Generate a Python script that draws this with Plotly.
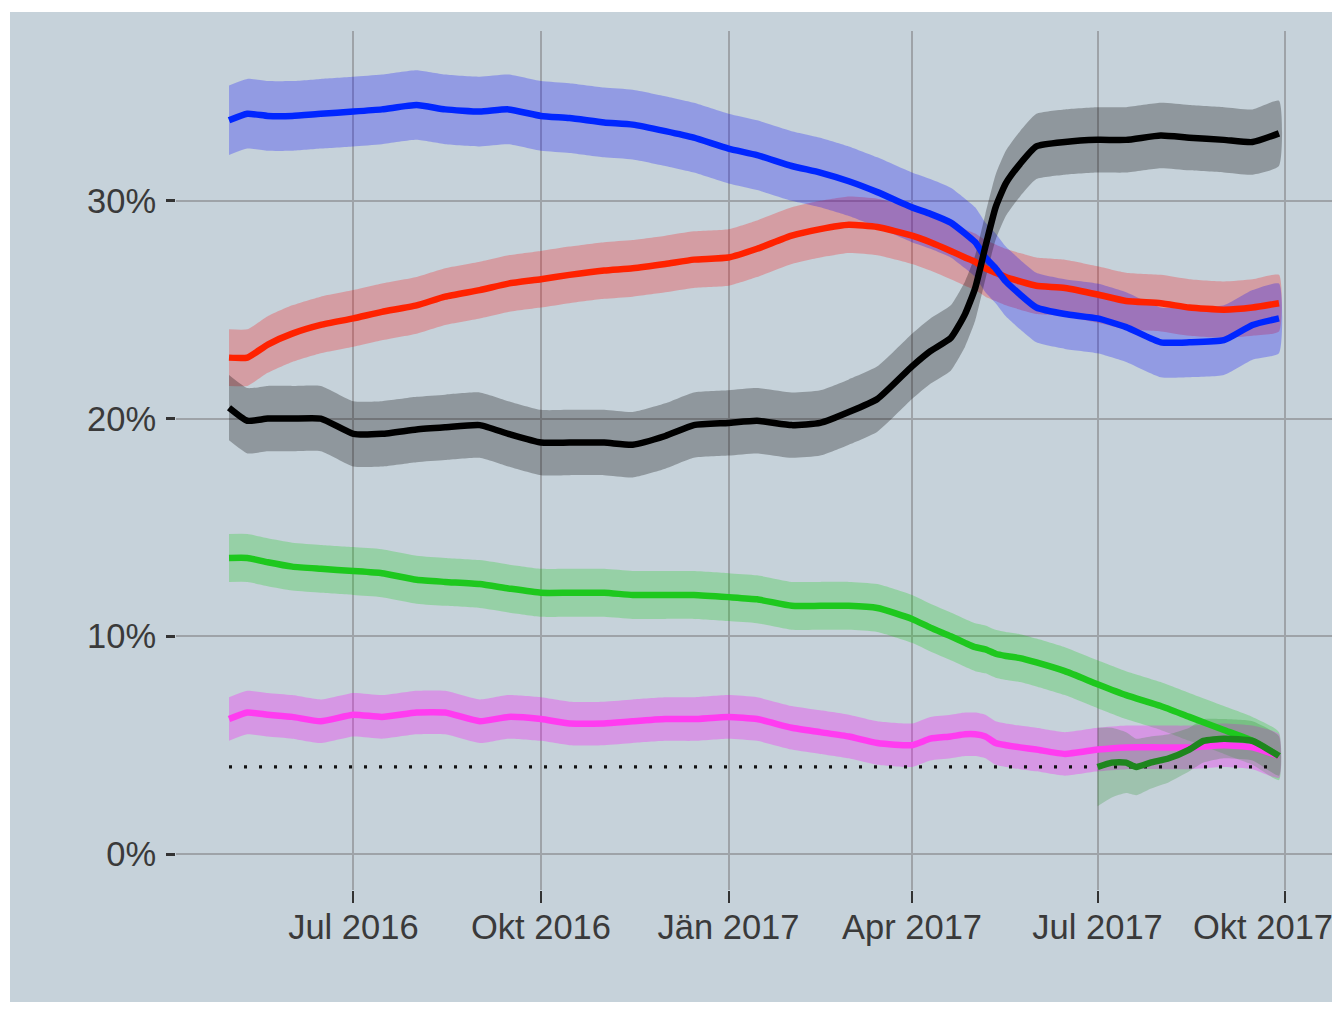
import plotly.graph_objects as go

# ---------------- data ----------------
dates = [
    "2016-05-01", "2016-05-10", "2016-05-20", "2016-06-01", "2016-06-15",
    "2016-07-01", "2016-07-15", "2016-08-01", "2016-08-15", "2016-09-01",
    "2016-09-15", "2016-10-01", "2016-10-15", "2016-11-01", "2016-11-15",
    "2016-12-01", "2016-12-15", "2017-01-01", "2017-01-15", "2017-02-01",
    "2017-02-15", "2017-03-01", "2017-03-15", "2017-04-01", "2017-04-10",
    "2017-04-20", "2017-04-27", "2017-05-02", "2017-05-07", "2017-05-12",
    "2017-05-17", "2017-05-24", "2017-06-01", "2017-06-15", "2017-07-01",
    "2017-07-15", "2017-08-01", "2017-08-15", "2017-09-01", "2017-09-15",
    "2017-09-28",
]

oevp = [20.5, 19.9, 20.0, 20.0, 20.0, 19.3, 19.3, 19.5, 19.6, 19.7,
        19.3, 18.9, 18.9, 18.9, 18.8, 19.2, 19.7, 19.8, 19.9, 19.7,
        19.8, 20.3, 20.9, 22.4, 23.1, 23.7, 24.8, 26.0, 27.9, 29.7,
        30.8, 31.7, 32.5, 32.7, 32.8, 32.8, 33.0, 32.9, 32.8, 32.7,
        33.1]
fpoe = [33.7, 34.0, 33.9, 33.9, 34.0, 34.1, 34.2, 34.4, 34.2, 34.1,
        34.2, 33.9, 33.8, 33.6, 33.5, 33.2, 32.9, 32.4, 32.1, 31.6,
        31.3, 30.9, 30.4, 29.7, 29.4, 29.0, 28.5, 28.1, 27.4, 26.9,
        26.3, 25.7, 25.1, 24.8, 24.6, 24.2, 23.5, 23.5, 23.6, 24.3,
        24.6]
spoe = [22.8, 22.8, 23.4, 23.9, 24.3, 24.6, 24.9, 25.2, 25.6, 25.9,
        26.2, 26.4, 26.6, 26.8, 26.9, 27.1, 27.3, 27.4, 27.8, 28.4,
        28.7, 28.9, 28.8, 28.4, 28.1, 27.7, 27.4, 27.2, 26.9, 26.7,
        26.5, 26.3, 26.1, 26.0, 25.7, 25.4, 25.3, 25.1, 25.0, 25.1,
        25.3]
gruene = [13.6, 13.6, 13.4, 13.2, 13.1, 13.0, 12.9, 12.6, 12.5, 12.4,
          12.2, 12.0, 12.0, 12.0, 11.9, 11.9, 11.9, 11.8, 11.7, 11.4,
          11.4, 11.4, 11.3, 10.8, 10.4, 10.0, 9.7, 9.5, 9.4, 9.2,
          9.1, 9.0, 8.8, 8.4, 7.8, 7.3, 6.8, 6.3, 5.7, 5.2,
          4.5]
neos = [6.2, 6.5, 6.4, 6.3, 6.1, 6.4, 6.3, 6.5, 6.5, 6.1,
        6.3, 6.2, 6.0, 6.0, 6.1, 6.2, 6.2, 6.3, 6.2, 5.8,
        5.6, 5.4, 5.1, 5.0, 5.3, 5.4, 5.5, 5.5, 5.4, 5.1,
        5.0, 4.9, 4.8, 4.6, 4.8, 4.9, 4.9, 4.9, 5.0, 4.9,
        4.5]

pilz_dates = ["2017-07-01", "2017-07-08", "2017-07-15", "2017-07-20", "2017-07-27",
              "2017-08-05", "2017-08-15", "2017-08-22", "2017-09-01", "2017-09-15",
              "2017-09-28"]
pilz = [4.0, 4.2, 4.2, 4.0, 4.2, 4.4, 4.8, 5.2, 5.3, 5.2, 4.5]
pilz_halfwidth = [1.8, 1.6, 1.4, 1.3, 1.2, 1.1, 1.0, 1.0, 0.9, 0.9, 0.9]

# half-width of the uncertainty band (percentage points)
band_oevp = 1.5
band_fpoe = 1.6
band_spoe = 1.3
band_gruene = 1.1
band_neos = 1.0

threshold = 4.0

tick_dates = ["2016-07-01", "2016-10-01", "2017-01-01", "2017-04-01", "2017-07-01", "2017-10-01"]
tick_labels = ["Jul 2016", "Okt 2016", "Jän 2017", "Apr 2017", "Jul 2017", "Okt 2017"]
y_ticks = [0, 10, 20, 30]
y_tick_labels = ["0%", "10%", "20%", "30%"]

# ---------------- figure ----------------
BG = "#c6d2da"
fig = go.Figure()


def band(x, y, hw, fillcolor):
    if not isinstance(hw, list):
        hw = [hw] * len(y)
    upper = [v + h for v, h in zip(y, hw)]
    lower = [v - h for v, h in zip(y, hw)]
    fig.add_trace(go.Scatter(
        x=list(x) + list(x)[::-1], y=upper + lower[::-1],
        fill="toself", fillcolor=fillcolor, mode="lines",
        line=dict(width=0, shape="spline", smoothing=0.5),
        hoverinfo="skip", showlegend=False))


def line(x, y, color):
    fig.add_trace(go.Scatter(x=x, y=y, mode="lines",
                             line=dict(color=color, width=6.5, shape="spline", smoothing=0.5),
                             showlegend=False))


band(dates, gruene, band_gruene, "rgba(0,205,0,0.24)")
band(dates, neos, band_neos, "rgba(255,0,255,0.28)")
band(pilz_dates, pilz, pilz_halfwidth, "rgba(0,130,0,0.20)")
band(dates, spoe, band_spoe, "rgba(255,0,0,0.25)")
band(dates, fpoe, band_fpoe, "rgba(0,0,255,0.26)")
band(dates, oevp, band_oevp, "rgba(0,0,0,0.28)")

# threshold dotted line
fig.add_trace(go.Scatter(x=[dates[0], dates[-1]], y=[threshold, threshold],
                         mode="lines", line=dict(color="#111111", width=3.3, dash="3px,12px"),
                         showlegend=False, hoverinfo="skip"))

line(dates, gruene, "#1ec81e")
line(dates, neos, "#ff3cf0")
line(pilz_dates, pilz, "#1e861e")
line(dates, spoe, "#ff2200")
line(dates, fpoe, "#0026ff")
line(dates, oevp, "#000000")

W, H = 1327, 994
ML, MR, MT, MB = 168, 3, 23, 112
pw, ph = W - ML - MR, H - MT - MB

fig.add_shape(type="rect", xref="paper", yref="paper",
              x0=(2 - ML) / pw, x1=1.0,
              y0=-(MB + 5) / ph, y1=(ph + MT - 4) / ph,
              fillcolor=BG, line=dict(width=0), layer="below")

font = dict(family="Liberation Sans, Arial, sans-serif", size=34.5, color="#3a3a3a")

# last tick label drawn as annotation, nudged left so it stays inside the page
fig.add_annotation(x=tick_dates[-1], xref="x", y=0, yref="paper",
                   text=tick_labels[-1], showarrow=False, font=font,
                   xanchor="center", yanchor="middle", xshift=-22, yshift=-37)

fig.update_layout(
    width=W, height=H,
    margin=dict(l=ML, r=MR, t=MT, b=MB),
    paper_bgcolor="white", plot_bgcolor=BG,
    showlegend=False,
    font=font,
    xaxis=dict(
        type="date", range=["2016-04-05", "2017-10-24"],
        tickvals=tick_dates, ticktext=tick_labels[:-1] + [""],
        showgrid=True, gridcolor="#9ea3a8", gridwidth=1.5,
        ticks="outside", ticklen=12, tickwidth=2, tickcolor="#333333",
        showline=False, zeroline=False, tickfont=font,
        ticklabelstandoff=-5,
    ),
    yaxis=dict(
        range=[-1.65, 37.8],
        tickvals=y_ticks, ticktext=y_tick_labels,
        showgrid=True, gridcolor="#9ea3a8", gridwidth=1.5,
        ticks="outside", ticklen=9, tickwidth=2.5, tickcolor="#333333",
        showline=False, zeroline=False, tickfont=font,
        ticklabelstandoff=3,
    ),
)

fig.write_html("out.html")
